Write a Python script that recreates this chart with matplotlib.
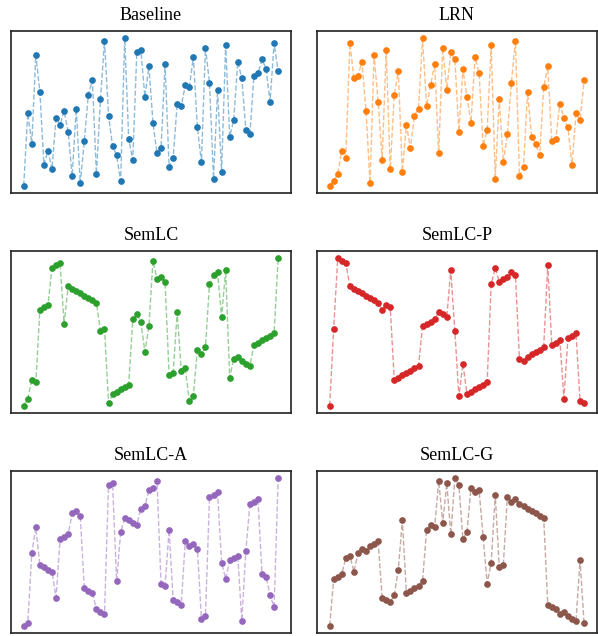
import matplotlib
matplotlib.use('Agg')
from matplotlib import pyplot as plt

# rank of each of the 64 filters, per model
baseline = [0, 31, 18, 56, 40, 9, 15, 7, 29, 26, 32, 23, 4, 33, 1, 19,
            39, 45, 5, 37, 62, 30, 17, 13, 2, 63, 20, 11, 57, 58, 38, 51,
            27, 14, 16, 52, 8, 12, 35, 34, 43, 42, 55, 25, 10, 59, 44, 3,
            41, 6, 60, 21, 28, 53, 46, 24, 22, 47, 48, 54, 50, 36, 61, 49]
lrn = [0, 2, 5, 15, 12, 61, 46, 47, 53, 32, 1, 56, 36, 11, 58, 7,
       39, 49, 6, 26, 16, 30, 33, 63, 34, 43, 52, 14, 59, 41, 57, 54,
       23, 50, 38, 27, 55, 48, 17, 24, 60, 3, 37, 10, 22, 44, 62, 4,
       8, 40, 21, 18, 13, 42, 51, 19, 20, 35, 29, 25, 9, 31, 28, 45]
semlc = [0, 3, 11, 10, 41, 42, 43, 59, 60, 61, 35, 51, 50, 49, 48, 47,
         46, 45, 44, 32, 33, 1, 5, 6, 7, 8, 9, 37, 39, 36, 23, 34,
         62, 54, 55, 53, 13, 14, 40, 15, 16, 2, 4, 24, 22, 25, 52, 56,
         57, 38, 58, 12, 20, 21, 19, 18, 17, 26, 27, 28, 29, 30, 31, 63]
semlc_p = [0, 33, 63, 62, 61, 51, 50, 49, 48, 47, 46, 45, 44, 41, 43, 42,
           11, 12, 13, 14, 15, 16, 17, 34, 35, 36, 37, 40, 39, 38, 58, 32,
           4, 18, 5, 6, 7, 8, 9, 10, 52, 59, 53, 54, 55, 57, 56, 20,
           19, 21, 22, 23, 24, 25, 60, 26, 27, 28, 3, 29, 30, 31, 2, 1]
semlc_a = [0, 1, 31, 42, 26, 25, 24, 23, 12, 37, 38, 39, 48, 49, 47, 16,
           15, 14, 7, 6, 5, 60, 61, 19, 40, 46, 45, 44, 43, 50, 51, 58,
           59, 62, 18, 17, 41, 11, 10, 9, 36, 34, 35, 33, 3, 4, 55, 56,
           57, 27, 20, 28, 29, 30, 2, 32, 52, 53, 54, 22, 21, 13, 8, 63]
semlc_g = [0, 20, 21, 22, 29, 30, 23, 31, 33, 32, 34, 35, 36, 12, 11, 10,
           13, 24, 45, 14, 15, 16, 17, 19, 41, 43, 42, 62, 44, 61, 39, 63,
           60, 37, 40, 59, 57, 58, 38, 18, 27, 56, 25, 26, 55, 53, 54, 52,
           51, 50, 49, 48, 47, 46, 9, 8, 7, 5, 6, 4, 3, 2, 28, 1]

titles = ['Baseline', 'LRN', 'SemLC', 'SemLC-P', 'SemLC-A', 'SemLC-G']
series = [baseline, lrn, semlc, semlc_p, semlc_a, semlc_g]
colors = ['tab:blue', 'tab:orange', 'tab:green', 'tab:red', 'tab:purple', 'tab:brown']

plt.rcParams['font.family'] = ['Liberation Serif', 'DejaVu Serif']

fig = plt.figure(figsize=(5.98, 6.36), dpi=100)
lefts = [0.0184, 0.530]
bottoms = [0.6965, 0.3506, 0.0047]
w, h = 0.468, 0.2547

for i, (title, vals, c) in enumerate(zip(titles, series, colors)):
    ax = fig.add_axes([lefts[i % 2], bottoms[i // 2], w, h])
    x = list(range(len(vals)))
    ax.plot(x, vals, '--', color=c, alpha=0.5, linewidth=1)
    ax.plot(x, vals, 'o', color=c, markersize=3.8)
    ax.set_title(title, fontsize=13, pad=8)
    ax.set_xticks([])
    ax.set_yticks([])
    for s in ax.spines.values():
        s.set_linewidth(1.2)
        s.set_edgecolor('#222222')

plt.savefig('out.png', dpi=100)
plt.close()
